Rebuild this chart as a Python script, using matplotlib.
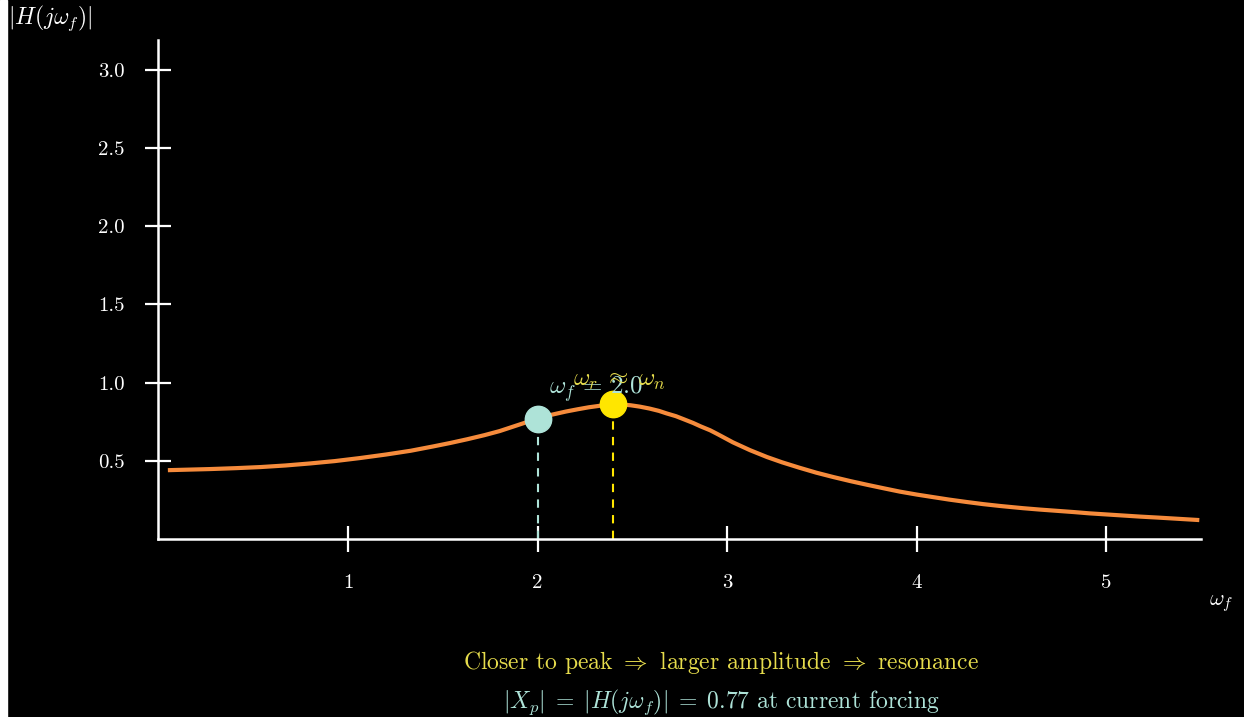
import numpy as np
import matplotlib
matplotlib.use("Agg")
import matplotlib.pyplot as plt

plt.rcParams['mathtext.fontset'] = 'cm'
plt.rcParams['font.family'] = ['cmr10', 'DejaVu Sans']
plt.rcParams['axes.unicode_minus'] = False

# frequency response magnitude, sampled along the curve
omega = [0.05, 0.27, 0.41, 0.54, 0.67, 0.80, 0.93, 1.06, 1.20, 1.33,
         1.45, 1.54, 1.63, 1.72, 1.80, 1.90, 2.00, 2.08, 2.15, 2.21,
         2.27, 2.33, 2.40, 2.45, 2.49, 2.54, 2.59, 2.64, 2.68, 2.73,
         2.77, 2.82, 2.86, 2.91, 2.95, 3.03, 3.12, 3.21, 3.29, 3.38,
         3.47, 3.56, 3.65, 3.74, 3.83, 3.91, 4.00, 4.09, 4.17, 4.26,
         4.35, 4.44, 4.56, 4.65, 4.74, 4.83, 4.91, 5.00, 5.09, 5.18,
         5.27, 5.38, 5.49]
mag = [0.440, 0.447, 0.453, 0.460, 0.470, 0.483, 0.498, 0.517, 0.540, 0.564,
       0.592, 0.614, 0.638, 0.664, 0.690, 0.730, 0.770, 0.796, 0.815, 0.829,
       0.842, 0.852, 0.860, 0.859, 0.855, 0.846, 0.834, 0.819, 0.803, 0.785,
       0.766, 0.742, 0.720, 0.695, 0.670, 0.618, 0.568, 0.524, 0.490, 0.456,
       0.424, 0.396, 0.370, 0.346, 0.323, 0.303, 0.284, 0.267, 0.252, 0.237,
       0.223, 0.211, 0.197, 0.188, 0.180, 0.172, 0.164, 0.157, 0.150, 0.143,
       0.137, 0.129, 0.121]

w_force, h_force = 2.0, 0.77
w_res, h_res = 2.4, 0.86

xticks = [1, 2, 3, 4, 5]
yticks = [0.5, 1.0, 1.5, 2.0, 2.5, 3.0]

orange = '#F68B3C'
teal = '#AEE3D8'
yellow = '#FFE600'
text_yellow = '#E6DC4C'

fig = plt.figure(figsize=(12.44, 7.17), dpi=100, facecolor='black')
# thin white margin on the left edge
fig.patches.append(plt.Rectangle((0, 0), 7 / 1244, 1, transform=fig.transFigure,
                                 color='white', zorder=0))

ax = fig.add_axes([158.4 / 1244, 178 / 717, 1042.8 / 1244, 499 / 717])
ax.set_facecolor('black')
ax.set_xlim(0, 5.5)
ax.set_ylim(0, 3.19)
for s in ['top', 'right']:
    ax.spines[s].set_visible(False)
for s in ['left', 'bottom']:
    ax.spines[s].set_color('white')
    ax.spines[s].set_linewidth(1.8)

ax.set_xticks(xticks)
ax.set_xticklabels([str(t) for t in xticks])
ax.set_yticks(yticks)
ax.set_yticklabels(['%.1f' % t for t in yticks])
ax.tick_params(axis='both', direction='inout', length=19, width=1.6,
               colors='white', labelsize=15)
ax.tick_params(axis='y', pad=15)
ax.tick_params(axis='x', pad=16)

ax.plot(omega, mag, color=orange, lw=3, solid_capstyle='butt',
        solid_joinstyle='round', zorder=3)

# guide lines from markers down to the frequency axis
ax.plot([w_force, w_force], [0, h_force], color=teal, lw=1.5, ls=(0, (4, 3.5)), zorder=2)
ax.plot([w_res, w_res], [0, h_res], color=yellow, lw=1.5, ls=(0, (4, 3.5)), zorder=2)

ax.plot([w_force], [h_force], 'o', ms=19, color=teal, zorder=4)
ax.plot([w_res], [h_res], 'o', ms=19, color=yellow, zorder=4)

ax.text(w_force + 0.31, h_force + 0.19, r'$\omega_f\,=\,2.0$', color=teal,
        fontsize=18, ha='center', va='center', zorder=5)
ax.text(w_res + 0.03, h_res + 0.15, r'$\omega_r\;\approx\;\omega_n$', color=text_yellow,
        fontsize=18, ha='center', va='center', zorder=5)

fig.text(8 / 1244, 1 - 18 / 717, r'$|H(j\omega_f)|$', color='white', fontsize=17,
         ha='left', va='center')
fig.text(1221 / 1244, 1 - 604 / 717, r'$\omega_f$', color='white', fontsize=16,
         ha='center', va='center')

fig.text(721 / 1244, 1 - 662 / 717,
         r'Closer to peak $\Rightarrow$ larger amplitude $\Rightarrow$ resonance',
         color=text_yellow, fontsize=17, ha='center', va='center')
fig.text(721 / 1244, 1 - 702 / 717,
         r'$|X_p|\;=\;|H(j\omega_f)|\;=\;0.77$ at current forcing',
         color=teal, fontsize=17, ha='center', va='center')

fig.savefig('out.png', dpi=100, facecolor=fig.get_facecolor())
